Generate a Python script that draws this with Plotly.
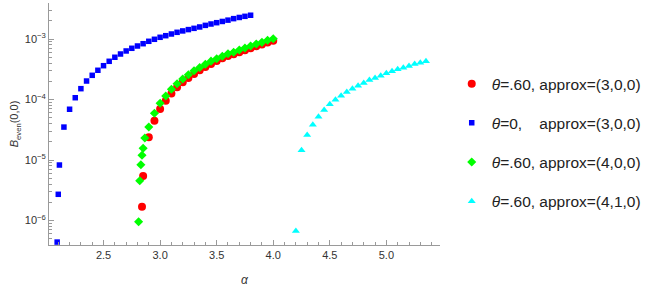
import plotly.graph_objects as go

# ---- data ----
red_alpha = [2.84, 2.85, 2.9, 2.95, 3.0, 3.05, 3.1, 3.15, 3.2, 3.25, 3.3, 3.35, 3.4,
             3.45, 3.5, 3.55, 3.6, 3.65, 3.7, 3.75, 3.8, 3.85, 3.9, 3.95, 4.0]
red_B = [1.69e-6, 5.44e-6, 2.37e-5, 4.47e-5, 6.97e-5, 9.55e-5, 1.26e-4, 1.59e-4, 1.92e-4,
         2.27e-4, 2.64e-4, 3.04e-4, 3.45e-4, 3.86e-4, 4.33e-4, 4.80e-4, 5.23e-4, 5.58e-4,
         6.05e-4, 6.53e-4, 7.05e-4, 7.60e-4, 8.11e-4, 8.75e-4, 9.38e-4]

blue_alpha = [2.09, 2.10, 2.11, 2.15, 2.2, 2.25, 2.3, 2.35, 2.4, 2.45, 2.5, 2.55, 2.6, 2.65,
              2.7, 2.75, 2.8, 2.85, 2.9, 2.95, 3.0, 3.05, 3.1, 3.15, 3.2, 3.25, 3.3, 3.35,
              3.4, 3.45, 3.5, 3.55, 3.6, 3.65, 3.7, 3.75, 3.8]
blue_B = [4.4e-7, 2.71e-6, 8.26e-6, 3.5e-5, 6.9e-5, 1.07e-4, 1.51e-4, 2.02e-4, 2.51e-4,
          3.04e-4, 3.62e-4, 4.28e-4, 4.99e-4, 5.65e-4, 6.34e-4, 7.02e-4, 7.66e-4, 8.36e-4,
          9.16e-4, 9.89e-4, 1.067e-3, 1.134e-3, 1.21e-3, 1.29e-3, 1.36e-3, 1.43e-3,
          1.50e-3, 1.58e-3, 1.68e-3, 1.77e-3, 1.86e-3, 1.95e-3, 2.05e-3, 2.17e-3,
          2.27e-3, 2.37e-3, 2.47e-3]

green_alpha = [2.81, 2.82, 2.83, 2.84, 2.85, 2.865, 2.9, 2.95, 3.0, 3.05, 3.1, 3.15, 3.2,
               3.25, 3.3, 3.35, 3.4, 3.45, 3.5, 3.55, 3.6, 3.65, 3.7, 3.75, 3.8, 3.85,
               3.9, 3.95, 4.0]
green_B = [9.55e-7, 4.55e-6, 8.36e-6, 1.20e-5, 1.56e-5, 2.31e-5, 3.51e-5, 5.91e-5, 8.65e-5,
           1.14e-4, 1.48e-4, 1.82e-4, 2.18e-4, 2.57e-4, 2.99e-4, 3.38e-4, 3.82e-4, 4.30e-4,
           4.71e-4, 5.18e-4, 5.69e-4, 6.03e-4, 6.58e-4, 7.10e-4, 7.66e-4, 8.26e-4, 8.81e-4,
           9.52e-4, 1.01e-3]

cyan_alpha = [4.2, 4.25, 4.3, 4.35, 4.4, 4.45, 4.5, 4.55, 4.6, 4.65, 4.7, 4.75, 4.8, 4.85,
              4.9, 4.95, 5.0, 5.05, 5.1, 5.15, 5.2, 5.25, 5.3, 5.35]
cyan_B = [6.7e-7, 1.45e-5, 2.59e-5, 3.83e-5, 5.2e-5, 6.7e-5, 8.33e-5, 9.93e-5, 1.156e-4,
          1.33e-4, 1.51e-4, 1.69e-4, 1.87e-4, 2.10e-4, 2.26e-4, 2.47e-4, 2.71e-4, 2.92e-4,
          3.16e-4, 3.36e-4, 3.58e-4, 3.86e-4, 4.06e-4, 4.28e-4]

series_names = [
    "<i>θ</i>=.60, approx=(3,0,0)",
    "<i>θ</i>=0,\u00a0\u00a0\u00a0\u00a0approx=(3,0,0)",
    "<i>θ</i>=.60, approx=(4,0,0)",
    "<i>θ</i>=.60, approx=(4,1,0)",
]

x_tickvals = [2.5, 3.0, 3.5, 4.0, 4.5, 5.0]
x_ticktext = ["2.5", "3.0", "3.5", "4.0", "4.5", "5.0"]
y_tickvals = [1e-6, 1e-5, 1e-4, 1e-3]
y_ticktext = ["10<sup>−6</sup>", "10<sup>−5</sup>", "10<sup>−4</sup>", "10<sup>−3</sup>"]

FONT = "Liberation Sans, Arial, sans-serif"
AXIS_COLOR = "#9a9a9a"

fig = go.Figure()
styles = [
    dict(symbol="circle", size=8, color="#ff0000"),
    dict(symbol="square", size=5.5, color="#0000ff"),
    dict(symbol="diamond", size=7, color="#00ff00"),
    dict(symbol="triangle-up", size=7, color="#00ffff"),
]
data = [(red_alpha, red_B), (blue_alpha, blue_B), (green_alpha, green_B), (cyan_alpha, cyan_B)]
for i, ((xa, yb), st, nm) in enumerate(zip(data, styles, series_names)):
    fig.add_trace(go.Scatter(
        x=xa, y=yb, mode="markers", name=nm, legendgroup=f"g{i}",
        marker=dict(symbol=st["symbol"], size=st["size"], color=st["color"], line=dict(width=0)),
    ))

y_minor = [m * 10 ** e for e in range(-7, -1) for m in range(2, 10)]
x_minor = [round(2.0 + 0.1 * k, 2) for k in range(0, 36)]

fig.update_layout(
    width=654, height=287,
    margin=dict(l=49, r=214, t=3, b=42, autoexpand=False),
    paper_bgcolor="white", plot_bgcolor="white",
    font=dict(family=FONT, size=11, color="#333333"),
    showlegend=True,
    legend=dict(
        x=1.03, xanchor="left", y=0.735, yanchor="top",
        traceorder="grouped", tracegroupgap=16,
        font=dict(family=FONT, size=15.5, color="#222222"),
        bgcolor="rgba(0,0,0,0)", itemsizing="trace",
    ),
    xaxis=dict(
        range=[2.018, 5.474], showgrid=False, zeroline=False, automargin=False,
        showline=True, linecolor=AXIS_COLOR, linewidth=1,
        ticks="inside", ticklen=5, tickcolor=AXIS_COLOR, tickwidth=1,
        tickmode="array", tickvals=x_tickvals, ticktext=x_ticktext,
        tickfont=dict(size=11, color="#333333"),
        minor=dict(ticks="inside", ticklen=3, tickcolor=AXIS_COLOR, tickmode="array",
                   tickvals=x_minor, showgrid=False),
        title=dict(text="<i>α</i>", font=dict(size=12, color="#333333"), standoff=15),
    ),
    yaxis=dict(
        type="log", range=[-6.405, -2.405], showgrid=False, zeroline=False, automargin=False,
        showline=True, linecolor=AXIS_COLOR, linewidth=1,
        ticks="inside", ticklen=5, tickcolor=AXIS_COLOR, tickwidth=1,
        tickmode="array", tickvals=y_tickvals, ticktext=y_ticktext,
        tickfont=dict(size=11, color="#333333"),
        minor=dict(ticks="inside", ticklen=3, tickcolor=AXIS_COLOR, tickmode="array",
                   tickvals=y_minor, showgrid=False),
        title=dict(text="<i>B</i><sub>even</sub>(0,0)", font=dict(size=11, color="#333333"), standoff=3),
    ),
)

fig.write_html("out.html", config={"displayModeBar": False},
               post_script="document.body.style.margin='0';")
